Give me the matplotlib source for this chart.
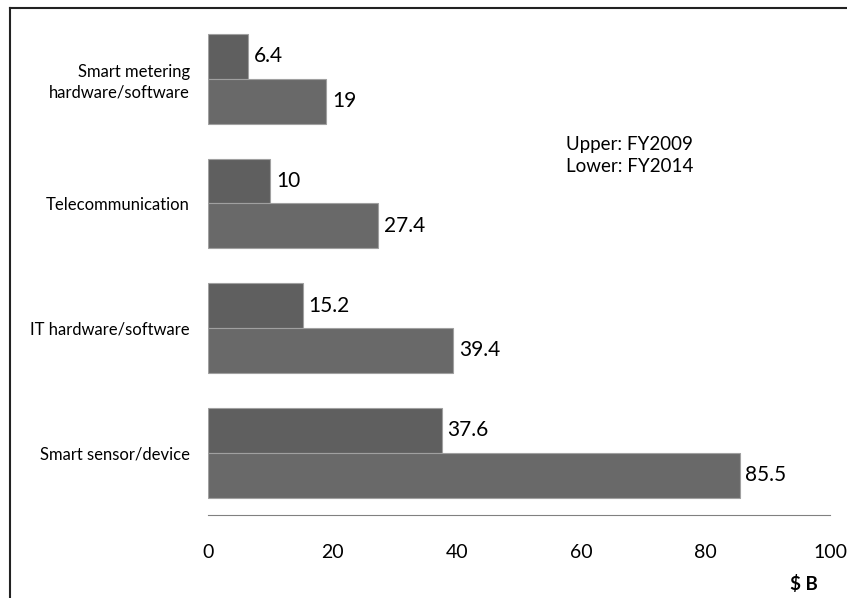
import matplotlib.pyplot as plt
from matplotlib.lines import Line2D

plt.rcParams['font.family'] = ['Lato', 'DejaVu Sans']

categories = ['Smart sensor/device', 'IT hardware/software', 'Telecommunication',
              'Smart metering\nhardware/software']
fy2009 = [37.6, 15.2, 10, 6.4]
fy2014 = [85.5, 39.4, 27.4, 19]
xticks = [0, 20, 40, 60, 80, 100]

W, H = 847, 598
fig = plt.figure(figsize=(W / 100, H / 100), dpi=100)
ax = fig.add_axes([208 / W, 1 - 515 / H, 622 / W, (515 - 16.5) / H])

h = 0.36
ypos = range(len(categories))
upper = [y + h / 2 for y in ypos]
lower = [y - h / 2 for y in ypos]
ax.barh(upper, fy2009, height=h, color='#5f5f5f', edgecolor='#a0a0a0', linewidth=0.8)
ax.barh(lower, fy2014, height=h, color='#696969', edgecolor='#a0a0a0', linewidth=0.8)

for y, v in zip(upper, fy2009):
    ax.text(v + 0.9, y, f'{v:g}', va='center', ha='left', fontsize=15)
for y, v in zip(lower, fy2014):
    ax.text(v + 0.9, y, f'{v:g}', va='center', ha='left', fontsize=15)

ax.set_xlim(0, 100)
ax.set_ylim(-0.5, 3.5)
ax.set_xticks(xticks)
ax.set_xticklabels([str(t) for t in xticks], fontsize=14)
ax.set_yticks(list(ypos))
ax.set_yticklabels(categories, fontsize=12, linespacing=1.35)
ax.tick_params(axis='both', length=0)
ax.tick_params(axis='x', pad=21)
ax.tick_params(axis='y', pad=13)
for s in ['top', 'right', 'left']:
    ax.spines[s].set_visible(False)
ax.spines['bottom'].set_color('#808080')

ax.text(0.575, 0.721, 'Upper: FY2009\nLower: FY2014', transform=ax.transAxes,
        fontsize=13.5, va='center', ha='left', linespacing=1.35)
fig.text(804 / W, 1 - 584 / H, '$ B', fontsize=13.5, fontweight='bold', ha='center', va='center')

# outer frame, only the top and left edges show
fig.add_artist(Line2D([10 / W, 10 / W], [0, 1 - 8 / H], color='#222222', lw=1.5,
                      transform=fig.transFigure))
fig.add_artist(Line2D([10 / W, 1], [1 - 8 / H, 1 - 8 / H], color='#222222', lw=1.5,
                      transform=fig.transFigure))

fig.savefig('out.png', dpi=100)
